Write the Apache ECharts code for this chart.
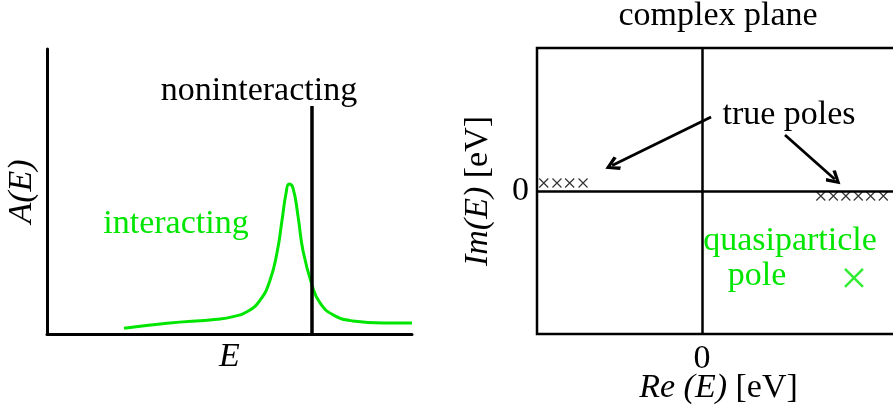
<!DOCTYPE html>
<html>
<head>
<meta charset="utf-8">
<script src="https://cdn.jsdelivr.net/npm/echarts@6/dist/echarts.min.js"></script>
<style>
  html, body { margin: 0; padding: 0; background: #fff; }
  #main { width: 893px; height: 411px; }
</style>
</head>
<body>
<div id="main"></div>
<script>
// left panel: spectral function A(E), E and A in arbitrary units 0..100
var curveE = [21.1, 32.9, 46.6, 51.0, 54.8, 58.4, 61.1, 63.0, 64.4, 65.5, 66.3, 67.4, 68.8, 70.1, 72.6, 74.8, 78.4, 83.8, 92.1, 100];
var curveA = [2.0, 3.8, 5.2, 6.1, 7.8, 11.9, 18.9, 28.4, 40.0, 49.5, 52.6, 51.2, 41.1, 29.5, 17.2, 10.9, 6.7, 4.6, 3.9, 3.9];
var nonintE = 72.6;
var nonintTop = 80;

// right panel: complex plane
var leftPolesRe = [-9.59, -8.79, -8.02, -7.21];
var leftPolesIm = 0.56;
var rightPolesRe = [7.20, 7.96, 8.72, 9.47, 10.22, 10.99];
var rightPolesIm = -0.35;
var qpPole = [9.21, -6.08];
var arrowFrom = [[0.55, 5.17], [5.03, 3.92]];
var arrowTo = [[-5.45, 1.78], [8.05, 0.82]];

var green = '#00e600';
var serif = 'Liberation Serif';

var curveData = [];
for (var i = 0; i < curveE.length; i++) {
  curveData.push([curveE[i], curveA[i]]);
}
var leftPoles = leftPolesRe.map(function (x) { return [x, leftPolesIm]; });
var rightPoles = rightPolesRe.map(function (x) { return [x, rightPolesIm]; });
var arrows = arrowFrom.map(function (p, k) { return { coords: [p, arrowTo[k]] }; });

var crossPath = 'path://M0,0L10,10M10,0L0,10';
// open arrow head, tip up
var chevron = 'path://M5,0L10,8L8.2,9.4L5,3.8L1.8,9.4L0,8Z';

function txt(text, x, y, color) {
  return {
    type: 'text', x: x, y: y, silent: true,
    style: { text: text, fill: color || '#000', font: '34px "' + serif + '"', align: 'center', verticalAlign: 'middle' }
  };
}

var chart = echarts.init(document.getElementById('main'));
chart.setOption({
  animation: false,
  backgroundColor: '#fff',
  textStyle: { fontFamily: serif },
  grid: [
    { left: 47, top: 49, width: 365, height: 285, show: false, containLabel: false, outerBoundsMode: 'none' },
    { left: 537, top: 48, width: 363, height: 286, show: true, borderColor: '#000', borderWidth: 2.5,
      backgroundColor: 'transparent', containLabel: false, outerBoundsMode: 'none' }
  ],
  xAxis: [
    {
      gridIndex: 0, type: 'value', min: 0, max: 100,
      axisLine: { show: true, onZero: false, lineStyle: { color: '#000', width: 3 } },
      axisTick: { show: false }, axisLabel: { show: false }, splitLine: { show: false },
      name: 'E', nameLocation: 'middle', nameGap: 6,
      nameTextStyle: { fontFamily: serif, fontSize: 34, fontStyle: 'italic', color: '#000' }
    },
    {
      gridIndex: 1, type: 'value', min: -10, max: 12, interval: 10,
      axisLine: { show: false }, axisTick: { show: false }, splitLine: { show: false },
      axisLabel: {
        fontFamily: serif, fontSize: 34, color: '#000', margin: 8,
        formatter: function (v) { return v === 0 ? '0' : ''; }
      },
      name: '{i|Re (E)}{n| [eV]}', nameLocation: 'middle', nameGap: 37, nameMoveOverlap: false,
      nameTextStyle: {
        rich: {
          i: { fontFamily: serif, fontSize: 34, fontStyle: 'italic', color: '#000' },
          n: { fontFamily: serif, fontSize: 34, color: '#000' }
        }
      }
    }
  ],
  yAxis: [
    {
      gridIndex: 0, type: 'value', min: 0, max: 100,
      axisLine: { show: true, onZero: false, lineStyle: { color: '#000', width: 3 } },
      axisTick: { show: false }, axisLabel: { show: false }, splitLine: { show: false },
      name: 'A(E)', nameLocation: 'middle', nameGap: 8, nameRotate: 90,
      nameTextStyle: { fontFamily: serif, fontSize: 34, fontStyle: 'italic', color: '#000' }
    },
    {
      gridIndex: 1, type: 'value', min: -10, max: 10, interval: 10,
      axisLine: { show: false }, axisTick: { show: false }, splitLine: { show: false },
      axisLabel: {
        fontFamily: serif, fontSize: 34, color: '#000', margin: 8,
        formatter: function (v) { return v === 0 ? '0' : ''; }
      },
      name: '{i|Im(E)}{n| [eV]}', nameLocation: 'middle', nameGap: 42, nameRotate: 90,
      nameTextStyle: {
        rich: {
          i: { fontFamily: serif, fontSize: 34, fontStyle: 'italic', color: '#000' },
          n: { fontFamily: serif, fontSize: 34, color: '#000' }
        }
      }
    }
  ],
  series: [
    {
      type: 'line', xAxisIndex: 0, yAxisIndex: 0, data: curveData,
      smooth: 0.5, symbol: 'none',
      lineStyle: { color: green, width: 3 }, silent: true
    },
    {
      type: 'line', xAxisIndex: 0, yAxisIndex: 0,
      data: [[nonintE, 0], [nonintE, nonintTop]], symbol: 'none',
      lineStyle: { color: '#000', width: 3.5 }, silent: true
    },
    {
      type: 'scatter', xAxisIndex: 1, yAxisIndex: 1, data: leftPoles.concat(rightPoles),
      symbol: crossPath, symbolSize: 9, silent: true,
      itemStyle: { color: 'transparent', borderColor: '#000', borderWidth: 1.2 },
      markLine: {
        silent: true, symbol: 'none', label: { show: false },
        lineStyle: { color: '#000', width: 2.5, type: 'solid' },
        data: [{ xAxis: 0 }, { yAxis: 0 }]
      }
    },
    {
      type: 'scatter', xAxisIndex: 1, yAxisIndex: 1, data: [qpPole],
      symbol: crossPath, symbolSize: 18, silent: true,
      itemStyle: { color: 'transparent', borderColor: green, borderWidth: 2.5 }
    },
    {
      type: 'lines', coordinateSystem: 'cartesian2d', xAxisIndex: 1, yAxisIndex: 1,
      data: arrows, symbol: ['none', chevron], symbolSize: 15, silent: true,
      lineStyle: { color: '#000', width: 2.8, opacity: 1, curveness: 0 }
    }
  ],
  graphic: [
    txt('noninteracting', 259, 91),
    txt('interacting', 176, 224, green),
    txt('complex plane', 718, 16),
    txt('true poles', 789, 115),
    txt('quasiparticle', 790, 241, green),
    txt('pole', 757, 276, green)
  ]
});
</script>
</body>
</html>
